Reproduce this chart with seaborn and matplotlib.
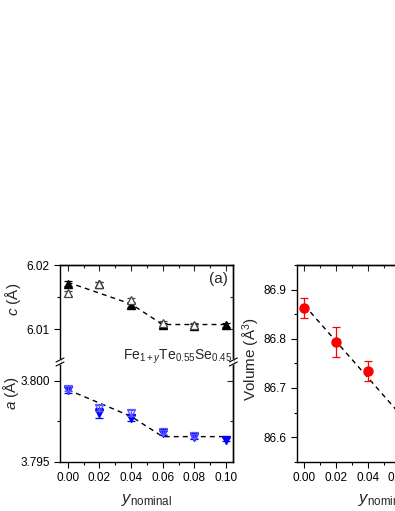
import numpy as np
import pandas as pd
import matplotlib
matplotlib.use('Agg')
import matplotlib.pyplot as plt
from matplotlib.ticker import MultipleLocator, FixedLocator, NullFormatter, FormatStrFormatter
import seaborn as sns

# ---- data ----
y_nom = [0.00, 0.02, 0.04, 0.06, 0.08, 0.10]

c_filled = [6.0171, 6.0170, 6.0137, 6.0106, 6.0105, 6.0106]
c_filled_err = [0.0004, 0.0004, 0.0003, 0.0004, 0.0003, 0.0003]
y_open = [0.00, 0.02, 0.04, 0.06, 0.08]
c_open = [6.0156, 6.0170, 6.0145, 6.0109, 6.0107]
c_open_err = [0.0004, 0.0004, 0.0003, 0.0004, 0.0003]
y_guide = [0.00, 0.04, 0.06, 0.10]
c_guide = [6.0173, 6.0139, 6.0107, 6.0107]

a_filled = [3.79944, 3.79800, 3.79769, 3.79679, 3.79654, 3.79637]
a_filled_err = [0.00020, 0.00030, 0.00020, 0.00012, 0.00015, 0.00010]
a_open = [3.79950, 3.79831, 3.79800, 3.79682, 3.79660]
a_open_err = [0.00015, 0.00020, 0.00020, 0.00012, 0.00012]
a_guide = [3.79945, 3.79780, 3.79655, 3.79655]

y_vol = [0.00, 0.02, 0.04]
vol = [86.863, 86.793, 86.735]
vol_err = [0.020, 0.030, 0.020]
y_vol_guide = [0.00, 0.06, 0.10]
vol_guide = [86.868, 86.648, 86.648]

sns.set_style('ticks')
plt.rcParams['font.family'] = ['Liberation Sans', 'DejaVu Sans']
plt.rcParams['mathtext.fontset'] = 'custom'
plt.rcParams['mathtext.rm'] = 'Liberation Sans'
plt.rcParams['mathtext.it'] = 'Liberation Sans:italic'
plt.rcParams['axes.linewidth'] = 1.0

fig = plt.figure(figsize=(3.95, 5.11), dpi=100)
W, H = 395.0, 511.0


def box(x0, y_top, x1, y_bot):
    return [x0 / W, 1 - y_bot / H, (x1 - x0) / W, (y_bot - y_top) / H]


ax_c = fig.add_axes(box(60, 265, 233.3, 361))
ax_a = fig.add_axes(box(60, 363, 233.3, 461.7))
ax_v = fig.add_axes(box(296.7, 265, 470, 461.7))

XLIM = (-0.0049, 0.1046)
DASH = (0, (3.5, 3))


def style(ax, top=True, bottom=True):
    ax.set_xlim(*XLIM)
    ax.xaxis.set_major_locator(MultipleLocator(0.02))
    ax.xaxis.set_minor_locator(MultipleLocator(0.01))
    ax.tick_params(which='both', direction='out', top=False, right=False,
                   labelsize=8.5, colors='black', width=0.8)
    ax.tick_params(which='major', length=4)
    ax.tick_params(which='minor', length=2.2)
    for s in ax.spines.values():
        s.set_color('black')
    ax.spines['top'].set_visible(top)
    ax.spines['bottom'].set_visible(bottom)
    if not bottom:
        ax.tick_params(axis='x', bottom=False, labelbottom=False, which='both')
    # inward ticks on top / right
    if top:
        sx = ax.secondary_xaxis('top')
        sx.xaxis.set_major_locator(MultipleLocator(0.02))
        sx.xaxis.set_minor_locator(MultipleLocator(0.01))
        sx.xaxis.set_major_formatter(NullFormatter())
        sx.tick_params(which='both', direction='in', width=0.8)
        sx.tick_params(which='major', length=4)
        sx.tick_params(which='minor', length=2.2)
    sy = ax.secondary_yaxis('right')
    sy.yaxis.set_major_locator(FixedLocator(ax.get_yticks()))
    sy.yaxis.set_minor_locator(FixedLocator(ax.yaxis.get_minorticklocs()))
    sy.yaxis.set_major_formatter(NullFormatter())
    sy.tick_params(which='both', direction='in', width=0.8)
    sy.tick_params(which='major', length=4)
    sy.tick_params(which='minor', length=2.2)


def ylabel_at(ax, text, x_px, y_frac, left_px=60, width_px=173.3):
    ax.set_ylabel(text, fontsize=11)
    ax.yaxis.label.set_va('center')
    ax.yaxis.set_label_coords((x_px - left_px) / width_px, y_frac)


# ---- c panel ----
ax_c.set_ylim(6.005, 6.02)
ax_c.set_yticks([6.01, 6.02])
ax_c.yaxis.set_minor_locator(FixedLocator([6.015]))
ax_c.yaxis.set_major_formatter(FormatStrFormatter('%.2f'))
sns.lineplot(x=y_guide, y=c_guide, ax=ax_c, color='black', lw=1.0,
             linestyle=DASH, zorder=1)
ax_c.errorbar(y_nom, c_filled, yerr=c_filled_err, fmt='^', color='black',
              ms=6, capsize=2.8, elinewidth=0.9, capthick=0.9, zorder=3)
ax_c.errorbar(y_open, c_open, yerr=c_open_err, fmt='^', color='#444444',
              mfc='white', mec='#444444', mew=0.9, ms=6, capsize=2.8,
              elinewidth=0.9, capthick=0.9, zorder=4)
style(ax_c, top=True, bottom=False)
ax_c.text(0.97, 0.93, '(a)', transform=ax_c.transAxes, ha='right', va='top',
          fontsize=11)
ylabel_at(ax_c, r'$c$ (Å)', 13, 0.64)

# ---- a panel ----
ax_a.set_ylim(3.795, 3.8011)
ax_a.set_yticks([3.795, 3.800])
ax_a.yaxis.set_minor_locator(FixedLocator([3.7975]))
ax_a.yaxis.set_major_formatter(FormatStrFormatter('%.3f'))
sns.lineplot(x=y_guide, y=a_guide, ax=ax_a, color='black', lw=1.0,
             linestyle=DASH, zorder=1)
ax_a.errorbar(y_nom, a_filled, yerr=a_filled_err, fmt='v', color='#0000ff',
              ms=6, capsize=2.8, elinewidth=0.9, capthick=0.9, zorder=3)
ax_a.errorbar(y_open, a_open, yerr=a_open_err, fmt='v', color='#5a5aff',
              mfc='none', mec='#5a5aff', mew=0.9, ms=6, capsize=2.8,
              elinewidth=0.9, capthick=0.9, zorder=4)
style(ax_a, top=False, bottom=True)
ax_a.set_xticks(y_nom)
ax_a.xaxis.set_major_formatter(FormatStrFormatter('%.2f'))
ylabel_at(ax_a, r'$a$ (Å)', 11, 0.70)
ax_a.set_xlabel(r'$y_{\rm nominal}$', fontsize=12, labelpad=6)

fig.text(177.5 / W, 1 - 357 / H, r'Fe$_{1+y}$Te$_{0.55}$Se$_{0.45}$',
         ha='center', va='center', fontsize=10)

# axis-break marks on both vertical spines
for xb in (0.0, 1.0):
    xc = 60 + 173.3 * xb
    fig.add_artist(plt.Line2D([xc / W] * 2, [1 - 360 / H, 1 - 364 / H],
                              color='white', lw=1.5, zorder=5))
    for dy in (-2.0, 2.0):
        y0 = 1 - (362 + dy) / H
        fig.add_artist(plt.Line2D([(xc - 4) / W, (xc + 4) / W],
                                  [y0 - 2 / H, y0 + 2 / H], color='black',
                                  lw=0.8, zorder=6))

# ---- volume panel ----
ax_v.set_ylim(86.55, 86.95)
ax_v.set_yticks([86.6, 86.7, 86.8, 86.9])
ax_v.yaxis.set_minor_locator(MultipleLocator(0.05))
ax_v.yaxis.set_major_formatter(FormatStrFormatter('%.1f'))
sns.lineplot(x=y_vol_guide, y=vol_guide, ax=ax_v, color='black', lw=1.0,
             linestyle=DASH, zorder=1)
ax_v.errorbar(y_vol, vol, yerr=vol_err, fmt='o', color='#ff0000', ms=6.5,
              capsize=3, elinewidth=0.9, capthick=0.9, zorder=3)
style(ax_v, top=True, bottom=True)
ax_v.set_xticks(y_nom)
ax_v.xaxis.set_major_formatter(FormatStrFormatter('%.2f'))
ylabel_at(ax_v, r'Volume (Å$^3$)', 251, 0.52, left_px=296.7)
ax_v.set_xlabel(r'$y_{\rm nominal}$', fontsize=12, labelpad=6)

fig.savefig('out.png', dpi=100)
